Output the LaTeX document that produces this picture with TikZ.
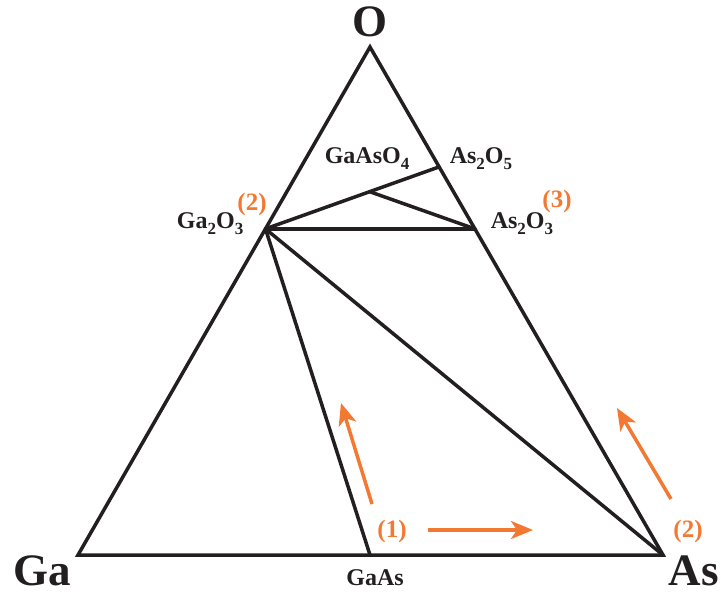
\documentclass[tikz,border=0pt]{standalone}
\usepackage{fontspec}
\setmainfont{Liberation Serif}
\usetikzlibrary{arrows.meta,calc}
\definecolor{inkblack}{RGB}{35,31,32}
\definecolor{trendorange}{RGB}{243,121,50}
\newcommand\chemsub[1]{\raisebox{-6pt}{\fontsize{17}{20}\selectfont#1}}
\begin{document}
\begin{tikzpicture}[x=1pt,y=-1pt,line width=3.5pt,line join=round,line cap=round,draw=inkblack,
    corner/.style={font=\fontsize{45}{50}\selectfont\bfseries,text=inkblack,inner sep=0pt},
    phase/.style={font=\fontsize{24}{28}\selectfont\bfseries,text=inkblack,inner sep=0pt},
    stage/.style={font=\fontsize{25}{28}\selectfont\bfseries,text=trendorange,inner sep=0pt},
    trend/.style={draw=trendorange,line width=3.5pt,line cap=butt,-{Stealth[length=22pt,width=18pt,inset=6pt]}}]
  \useasboundingbox (0,0) rectangle (721,594);
  % corners of the ternary
  \coordinate (Ga) at (78,555);
  \coordinate (As) at (663,555);
  \coordinate (O) at (370,47);
  % compounds
  \coordinate (GaAs) at (370,555);
  \coordinate (Ga2O3) at ($(O)!0.358!(Ga)$);
  \coordinate (As2O3) at ($(O)!0.358!(As)$);
  \coordinate (As2O5) at ($(O)!0.236!(As)$);
  \coordinate (GaAsO4) at ($(Ga2O3)!0.6!(As2O5)$);
  \draw[line join=miter] (Ga) -- (As) -- (O) -- cycle;
  \draw (Ga2O3) -- (GaAs);
  \draw (Ga2O3) -- (As);
  \draw (Ga2O3) -- (As2O3);
  \draw (Ga2O3) -- (As2O5);
  \draw (GaAsO4) -- (As2O3);
  % labels
  \node[corner] (lO) at (370,22) {O};
  \node[corner,anchor=base] (lGa) at (42,585) {Ga};
  \node[corner,anchor=base] (lAs) at (694,585) {As};
  \node[phase] (lGaAs) at (375,578) {GaAs};
  \node[phase,anchor=base east] (lGa2O3) at (245,228) {Ga\chemsub{2}O\chemsub{3}};
  \node[phase,anchor=base west] (lAs2O3) at (489,228) {As\chemsub{2}O\chemsub{3}};
  \node[phase,anchor=base west] (lAs2O5) at (448,163) {As\chemsub{2}O\chemsub{5}};
  \node[phase,anchor=base west] (lGaAsO4) at (323,163) {GaAsO\chemsub{4}};
  \node[stage] (s1) at (392,531) {(1)};
  \node[stage] (s2) at (688,531) {(2)};
  \node[stage] (s2b) at (252,204) {(2)};
  \node[stage] (s3) at (557,201) {(3)};
  % oxidation trends
  \coordinate (t1a) at (372,504);
  \coordinate (t1b) at (341,403);
  \coordinate (t2a) at (428,530);
  \coordinate (t2b) at (533,530);
  \coordinate (t3a) at (671,499);
  \coordinate (t3b) at (617,408);
  \draw[trend] (t1a) -- (t1b);
  \draw[trend] (t2a) -- (t2b);
  \draw[trend] (t3a) -- (t3b);
\end{tikzpicture}
\end{document}
